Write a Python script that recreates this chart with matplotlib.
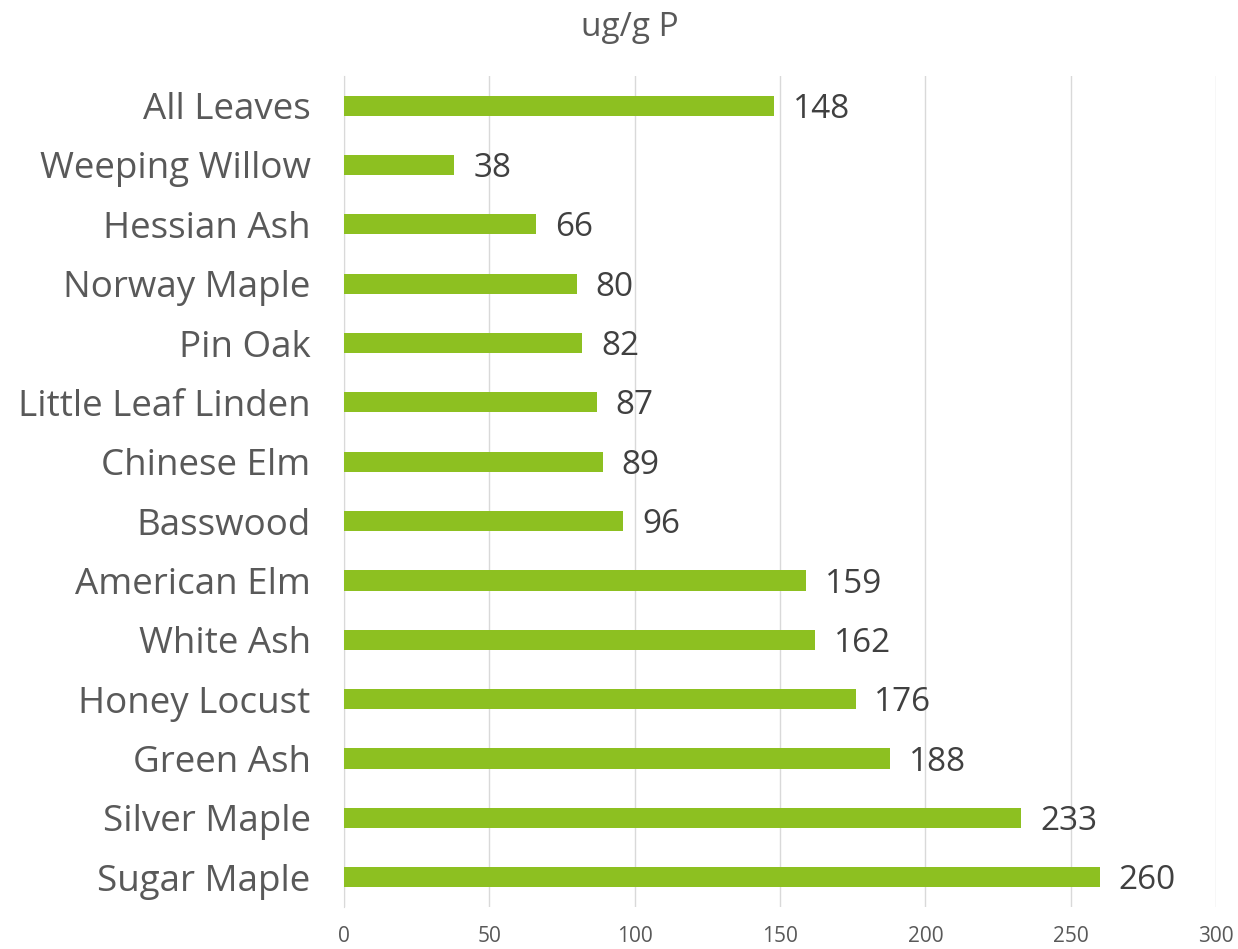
import matplotlib.pyplot as plt

plt.rcParams['font.family'] = ['Open Sans', 'DejaVu Sans']

trees = ["All Leaves", "Weeping Willow", "Hessian Ash", "Norway Maple", "Pin Oak",
         "Little Leaf Linden", "Chinese Elm", "Basswood", "American Elm", "White Ash",
         "Honey Locust", "Green Ash", "Silver Maple", "Sugar Maple"]
phosphorus = [148, 38, 66, 80, 82, 87, 89, 96, 159, 162, 176, 188, 233, 260]
xticks = [0, 50, 100, 150, 200, 250, 300]

fig = plt.figure(figsize=(12.38, 9.49), dpi=100)
ax = fig.add_axes([0.2779, 0.0443, 0.7043, 0.8757])

pos = list(range(len(trees)))
ax.barh(pos, phosphorus, height=0.34, color="#8DC021", zorder=3)
for y, v in zip(pos, phosphorus):
    ax.text(v + 6.5, y + 0.06, str(v), va="center", ha="left", fontsize=24, color="#404040")

ax.set_ylim(len(trees) - 0.5, -0.5)
ax.set_xlim(0, 300)
ax.set_yticks(pos)
ax.set_yticklabels(trees, fontsize=26.5, color="#595959")
ax.set_xticks(xticks)
ax.set_xticklabels([str(t) for t in xticks], fontsize=15, color="#595959")
ax.tick_params(axis="both", length=0)
ax.tick_params(axis="y", pad=24)
ax.tick_params(axis="x", pad=14)
ax.grid(axis="x", color="#D9D9D9", lw=1, zorder=0)
for s in ["top", "right", "bottom"]:
    ax.spines[s].set_visible(False)
ax.spines["left"].set_color("#D9D9D9")

fig.text(0.509, 0.971, "ug/g P", ha="center", va="center", fontsize=24, color="#595959")

fig.savefig("out.png", dpi=100)
